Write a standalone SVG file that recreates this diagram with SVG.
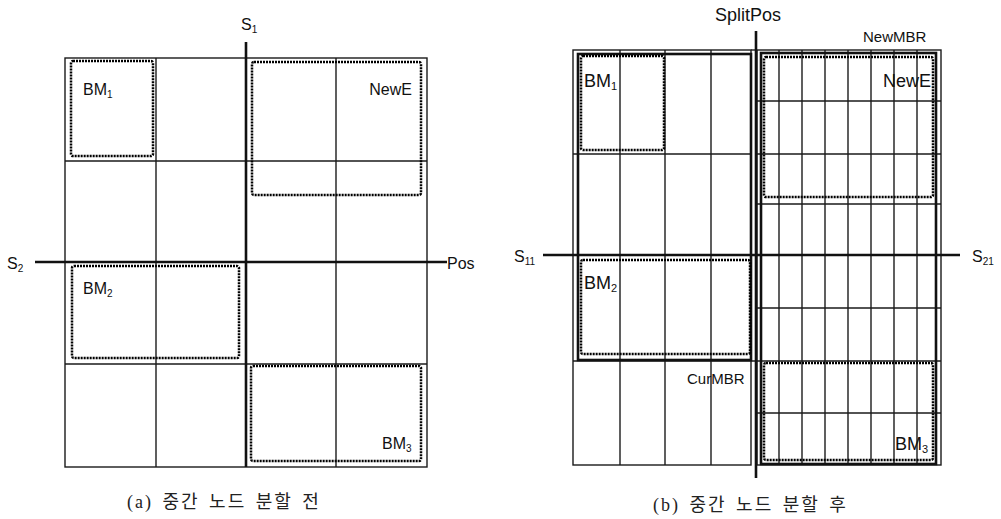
<svg xmlns="http://www.w3.org/2000/svg" width="1001" height="519" viewBox="0 0 1001 519">
<style>
.bg{fill:#ffffff}
.g{fill:none;stroke:#1a1a1a;stroke-width:1.4}
.thk{fill:none;stroke:#111;stroke-width:2.6}
.cut{stroke:#111;stroke-width:2.6;fill:none}
.dot{fill:none;stroke:#000;stroke-width:2.5;stroke-dasharray:2 1;stroke-linejoin:round}
.t{font-family:"Liberation Sans",Arial,sans-serif;fill:#111}
.cap{font-family:"Liberation Serif","Noto Sans CJK KR",serif;font-size:18px;letter-spacing:2px;word-spacing:3px;fill:#222}
</style>
<rect class="bg" width="1001" height="519"/>

<g id="diagram-a">
  <g id="a-grid">
    <rect class="g" x="65" y="58" width="362" height="409"/>
    <line class="g" x1="156" y1="58" x2="156" y2="467"/>
    <line class="g" x1="336" y1="58" x2="336" y2="467"/>
    <line class="g" x1="65" y1="161" x2="427" y2="161"/>
    <line class="g" x1="65" y1="364" x2="427" y2="364"/>
  </g>
  <g id="a-cuts">
    <line class="cut" x1="246" y1="42" x2="246" y2="467"/>
    <line class="cut" x1="35" y1="262" x2="447" y2="262"/>
  </g>
  <g id="a-BM1"><rect class="dot" x="71" y="61" width="82" height="95" rx="2"/>
    <text class="t" x="83" y="95" font-size="16">BM<tspan font-size="10" dy="3">1</tspan></text></g>
  <g id="a-NewE"><rect class="dot" x="252" y="62" width="169" height="133" rx="2"/>
    <text class="t" x="412" y="95" font-size="16" text-anchor="end">NewE</text></g>
  <g id="a-BM2"><rect class="dot" x="72" y="266" width="167" height="92" rx="2"/>
    <text class="t" x="83" y="294" font-size="16">BM<tspan font-size="10" dy="3">2</tspan></text></g>
  <g id="a-BM3"><rect class="dot" x="251" y="366" width="170" height="95" rx="2"/>
    <text class="t" x="382" y="449" font-size="16">BM<tspan font-size="10" dy="3">3</tspan></text></g>
  <g id="a-labels">
    <text class="t" x="241" y="30" font-size="16">S<tspan font-size="10" dy="3">1</tspan></text>
    <text class="t" x="7" y="269" font-size="16">S<tspan font-size="10" dy="3">2</tspan></text>
    <text class="t" x="447" y="269" font-size="16">Pos</text>
  </g>
  <text class="cap" x="127" y="508">(a) 중간 노드 분할 전</text>
</g>

<g id="diagram-b">
  <g id="b-left-grid">
    <rect class="g" x="573" y="50" width="178" height="415"/>
    <line class="g" x1="620" y1="50" x2="620" y2="465"/>
    <line class="g" x1="665" y1="50" x2="665" y2="465"/>
    <line class="g" x1="711" y1="50" x2="711" y2="465"/>
    <line class="g" x1="573" y1="154" x2="751" y2="154"/>
    <line class="g" x1="573" y1="361" x2="756" y2="361"/>
    <line class="g" x1="751" y1="50" x2="757" y2="50"/>
  </g>
  <g id="b-right-grid">
    <rect class="g" x="757" y="50" width="184" height="415"/>
    <line class="g" x1="779" y1="50" x2="779" y2="465"/>
    <line class="g" x1="802" y1="50" x2="802" y2="465"/>
    <line class="g" x1="825" y1="50" x2="825" y2="465"/>
    <line class="g" x1="848" y1="50" x2="848" y2="465"/>
    <line class="g" x1="871" y1="50" x2="871" y2="465"/>
    <line class="g" x1="894" y1="50" x2="894" y2="465"/>
    <line class="g" x1="917" y1="50" x2="917" y2="465"/>
    <line class="g" x1="757" y1="101" x2="941" y2="101"/>
    <line class="g" x1="757" y1="154" x2="941" y2="154"/>
    <line class="g" x1="757" y1="204" x2="941" y2="204"/>
    <line class="g" x1="757" y1="308" x2="941" y2="308"/>
    <line class="g" x1="757" y1="361" x2="941" y2="361"/>
    <line class="g" x1="757" y1="413" x2="941" y2="413"/>
  </g>
  <g id="b-CurMBR"><rect class="thk" x="578" y="54" width="173" height="306"/>
    <text class="t" x="687" y="384" font-size="15">CurMBR</text></g>
  <g id="b-NewMBR"><rect class="thk" x="761" y="53" width="175" height="411"/>
    <text class="t" x="863" y="42" font-size="15">NewMBR</text></g>
  <g id="b-cuts">
    <line class="cut" x1="756" y1="31" x2="756" y2="478"/>
    <line class="cut" x1="543" y1="255" x2="960" y2="255"/>
  </g>
  <g id="b-BM1"><rect class="dot" x="581" y="56" width="83" height="94" rx="2"/>
    <text class="t" x="584" y="87" font-size="18">BM<tspan font-size="11" dy="3">1</tspan></text></g>
  <g id="b-NewE"><rect class="dot" x="764" y="57" width="169" height="140" rx="2"/>
    <text class="t" x="931" y="87" font-size="18" text-anchor="end">NewE</text></g>
  <g id="b-BM2"><rect class="dot" x="581" y="260" width="169" height="94" rx="2"/>
    <text class="t" x="584" y="289" font-size="18">BM<tspan font-size="11" dy="3">2</tspan></text></g>
  <g id="b-BM3"><rect class="dot" x="764" y="363" width="169" height="97" rx="2"/>
    <text class="t" x="895" y="450" font-size="18">BM<tspan font-size="11" dy="3">3</tspan></text></g>
  <g id="b-labels">
    <text class="t" x="748" y="21" font-size="18" text-anchor="middle">SplitPos</text>
    <text class="t" x="514" y="262" font-size="16">S<tspan font-size="10" dy="3">11</tspan></text>
    <text class="t" x="972" y="262" font-size="16">S<tspan font-size="10" dy="3">21</tspan></text>
  </g>
  <text class="cap" x="653" y="511">(b) 중간 노드 분할 후</text>
</g>
</svg>
